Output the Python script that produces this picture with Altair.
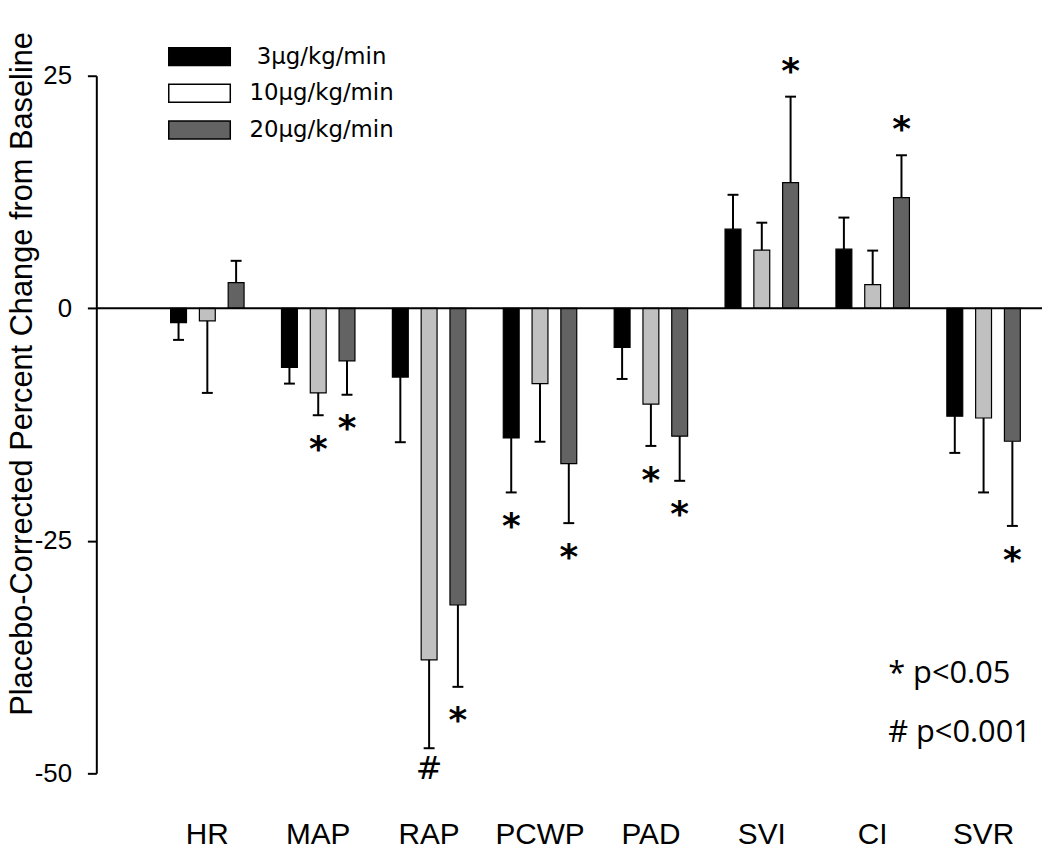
import altair as alt
import pandas as pd

categories = ["HR", "MAP", "RAP", "PCWP", "PAD", "SVI", "CI", "SVR"]
doses = ["3μg/kg/min", "10μg/kg/min", "20μg/kg/min"]

mean_3 = [-1.55, -6.35, -7.4, -13.95, -4.2, 8.5, 6.35, -11.6]
err_3 = [1.85, 1.75, 7.0, 5.85, 3.4, 3.7, 3.4, 3.95]
sig_3 = ["", "", "", "*", "", "", "", ""]

mean_10 = [-1.35, -9.1, -37.8, -8.1, -10.3, 6.25, 2.55, -11.8]
err_10 = [7.75, 2.4, 9.5, 6.25, 4.5, 2.95, 3.65, 8.0]
sig_10 = ["", "*", "#", "", "*", "", "", ""]

mean_20 = [2.75, -5.65, -31.9, -16.7, -13.75, 13.5, 11.9, -14.3]
err_20 = [2.35, 3.65, 8.8, 6.4, 4.8, 9.25, 4.55, 9.1]
sig_20 = ["", "*", "*", "*", "*", "*", "*", "*"]

bar_colors = ["#000000", "#c0c0c0", "#636363"]
legend_colors = ["#000000", "#ffffff", "#636363"]
y_ticks = [-50, -25, 0, 25]
notes = ["* p<0.05", "# p<0.001"]

rows = []
for dose, means, errs, sigs in zip(doses, [mean_3, mean_10, mean_20],
                                   [err_3, err_10, err_20],
                                   [sig_3, sig_10, sig_20]):
    for c, m, e, s in zip(categories, means, errs, sigs):
        end = m + e if m >= 0 else m - e
        rows.append({"category": c, "dose": dose, "mean": m, "err": e,
                     "end": end, "sig": s})
df = pd.DataFrame(rows)

x_enc = alt.X("category:N", sort=categories,
              scale=alt.Scale(range=[56, 950], paddingInner=0, paddingOuter=0),
              axis=alt.Axis(title=None, labelAngle=0, domain=False, ticks=False,
                            tickSize=0, labelPadding=47, labelFont="Liberation Sans",
                            labelFontSize=30, labelColor="black"))
xoff = alt.XOffset("dose:N", sort=doses,
                   scale=alt.Scale(paddingInner=0.448, paddingOuter=0.65))
y_scale = alt.Scale(domain=[-50, 25], nice=False, zero=False)

base = alt.Chart(df)

bars = base.mark_bar(stroke="black", strokeWidth=1.2).encode(
    x=x_enc,
    xOffset=xoff,
    y=alt.Y("mean:Q", scale=y_scale,
            axis=alt.Axis(values=y_ticks, grid=False,
                          labelExpr="datum.value + ''",
                          title="Placebo-Corrected Percent Change from Baseline",
                          titleFont="Liberation Sans", titleFontSize=31,
                          titleFontWeight="normal", titleColor="black",
                          titleAngle=270, titleX=-65, titleY=300,
                          titleAlign="center", titleBaseline="alphabetic",
                          labelFont="Liberation Sans", labelFontSize=26,
                          labelColor="black", labelPadding=16,
                          tickSize=9, tickWidth=2, tickColor="black",
                          domainWidth=2, domainColor="black")),
    y2=alt.datum(0),
    fill=alt.Fill("dose:N", sort=doses,
                  scale=alt.Scale(domain=doses, range=bar_colors), legend=None),
)

err_rules = base.mark_rule(strokeWidth=2, color="black").encode(
    x=x_enc, xOffset=xoff, y=alt.Y("mean:Q", scale=y_scale), y2="end:Q")

caps = base.mark_tick(orient="horizontal", size=11, thickness=2,
                      color="black", opacity=1).encode(
    x=x_enc, xOffset=xoff, y=alt.Y("end:Q", scale=y_scale))

zero_line = alt.Chart(pd.DataFrame({"zero": [0]})).mark_rule(
    strokeWidth=2, color="black").encode(y=alt.Y("zero:Q", scale=y_scale))

stars_neg = base.transform_filter("datum.sig == '*' && datum.mean < 0").mark_text(
    dy=46, baseline="alphabetic", font="DejaVu Sans", fontWeight="bold",
    fontSize=36, color="black").encode(
    x=x_enc, xOffset=xoff, y=alt.Y("end:Q", scale=y_scale), text="sig:N")

stars_pos = base.transform_filter("datum.sig == '*' && datum.mean > 0").mark_text(
    dy=-14, baseline="alphabetic", font="DejaVu Sans", fontWeight="bold",
    fontSize=36, color="black").encode(
    x=x_enc, xOffset=xoff, y=alt.Y("end:Q", scale=y_scale), text="sig:N")

hashes = base.transform_filter("datum.sig == '#'").mark_text(
    dy=31, baseline="alphabetic", font="DejaVu Sans", fontWeight="normal",
    fontSize=32, color="black").encode(
    x=x_enc, xOffset=xoff, y=alt.Y("end:Q", scale=y_scale), text="sig:N")

legend_layer = base.transform_filter("false").mark_square(
    stroke="black", strokeWidth=1.5, opacity=1).encode(
    fill=alt.Fill("dose:N", sort=doses,
                  scale=alt.Scale(domain=doses, range=legend_colors),
                  legend=alt.Legend(title=None, orient="none", legendX=92.5,
                                    legendY=-30.8,
                                    symbolType="M-3.1,-0.9H3.1V0.9H-3.1Z",
                                    symbolSize=400, symbolStrokeColor="black",
                                    symbolStrokeWidth=1.5, symbolOpacity=1,
                                    labelFont="DejaVu Sans", labelFontSize=23,
                                    labelColor="black", labelAlign="center",
                                    labelOffset=111.5, rowPadding=12, padding=0,
                                    labelLimit=300)))

notes_layer = alt.Chart(pd.DataFrame({"a": [0]})).mark_text(
    text=notes, lineHeight=59, align="left", baseline="alphabetic",
    font="Open Sans", fontSize=31, color="black").encode(
    x=alt.value(798), y=alt.value(612))

chart = alt.layer(
    bars, zero_line, err_rules, caps, stars_neg, stars_pos, hashes,
    notes_layer, legend_layer
).resolve_scale(fill="independent").properties(
    width=953, height=703,
    padding={"left": 89, "top": 65, "right": 0, "bottom": 74},
    autosize=alt.AutoSizeParams(type="none"),
).configure_view(stroke=None).configure_axis(grid=False)

chart.save("out.html", embed_options={"renderer": "svg", "actions": False})
